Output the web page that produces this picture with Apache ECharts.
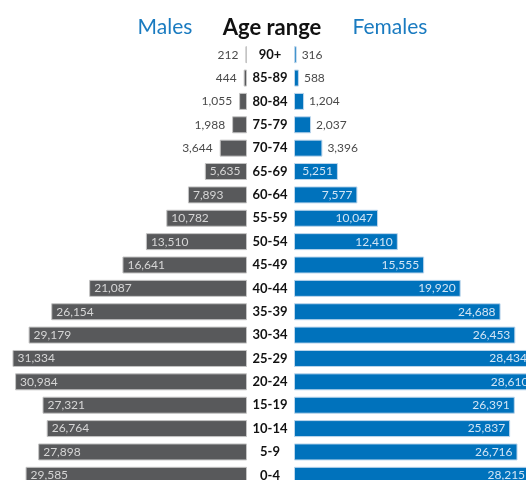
<!DOCTYPE html>
<html>
<head>
<meta charset="utf-8">
<script src="https://cdn.jsdelivr.net/npm/echarts@6/dist/echarts.min.js"></script>
<style>
html,body{margin:0;padding:0;background:#fff;}
#chart{width:526px;height:480px;}
</style>
</head>
<body>
<div id="chart"></div>
<script>
var ageRanges = ['90+','85-89','80-84','75-79','70-74','65-69','60-64','55-59','50-54','45-49','40-44','35-39','30-34','25-29','20-24','15-19','10-14','5-9','0-4'];
var males = [212,444,1055,1988,3644,5635,7893,10782,13510,16641,21087,26154,29179,31334,30984,27321,26764,27898,29585];
var females = [316,588,1204,2037,3396,5251,7577,10047,12410,15555,19920,24688,26453,28434,28610,26391,25837,26716,28215];
var titles = ['Males','Age range','Females'];

var MALE = '#58595b', FEMALE = '#0072bc';
var fmt = function (v) { return v.toLocaleString('en-US'); };

function items(arr, side) {
  return arr.map(function (v) {
    var inside = v >= 5000;
    var pos = side === 'm' ? (inside ? 'insideLeft' : 'left') : (inside ? 'insideRight' : 'right');
    return {
      value: v,
      label: {
        position: pos,
        distance: inside ? 5 : (side === 'm' ? 7 : 5),
        color: inside ? (side === 'm' ? '#d6d6d6' : '#d2e5f5') : '#4a4a4a'
      }
    };
  });
}

var chart = echarts.init(document.getElementById('chart'));
chart.setOption({
  animation: false,
  title: [
    {text: titles[0], left: 165, top: 17, padding: 0, textAlign: 'center', textStyle: {fontFamily: 'Lato', fontSize: 21, fontWeight: 'normal', color: '#1a7bc0'}},
    {text: titles[1], left: 272, top: 17, padding: 0, textAlign: 'center', textStyle: {fontFamily: 'Lato', fontSize: 22, fontWeight: 'bold', color: '#111'}},
    {text: titles[2], left: 390, top: 17, padding: 0, textAlign: 'center', textStyle: {fontFamily: 'Lato', fontSize: 21, fontWeight: 'normal', color: '#1a7bc0'}}
  ],
  grid: [
    {left: 0, width: 247, top: 43, height: 444, outerBoundsMode: 'none', containLabel: false},
    {left: 294, width: 251, top: 43, height: 444, outerBoundsMode: 'none', containLabel: false}
  ],
  xAxis: [
    {type: 'value', gridIndex: 0, min: 0, max: 33000, inverse: true, show: false},
    {type: 'value', gridIndex: 1, min: 0, max: 30000, show: false}
  ],
  yAxis: [
    {type: 'category', gridIndex: 0, data: ageRanges, inverse: true, show: false},
    {type: 'category', gridIndex: 1, data: ageRanges, inverse: true,
     axisLine: {show: false}, axisTick: {show: false}, splitLine: {show: false},
     axisLabel: {align: 'center', margin: 24, fontFamily: 'Lato', fontWeight: 'bold', fontSize: 13, color: '#111'}}
  ],
  series: [
    {type: 'bar', xAxisIndex: 0, yAxisIndex: 0, barWidth: 17, data: items(males, 'm'),
     itemStyle: {color: MALE, borderColor: '#c4c4c4', borderWidth: 1},
     label: {show: true, formatter: function (p) { return fmt(p.value); }, fontFamily: 'Lato', fontSize: 12}},
    {type: 'bar', xAxisIndex: 1, yAxisIndex: 1, barWidth: 17, data: items(females, 'f'),
     itemStyle: {color: FEMALE, borderColor: '#bcd6ec', borderWidth: 1},
     label: {show: true, formatter: function (p) { return fmt(p.value); }, fontFamily: 'Lato', fontSize: 12}}
  ]
});
</script>
</body>
</html>
